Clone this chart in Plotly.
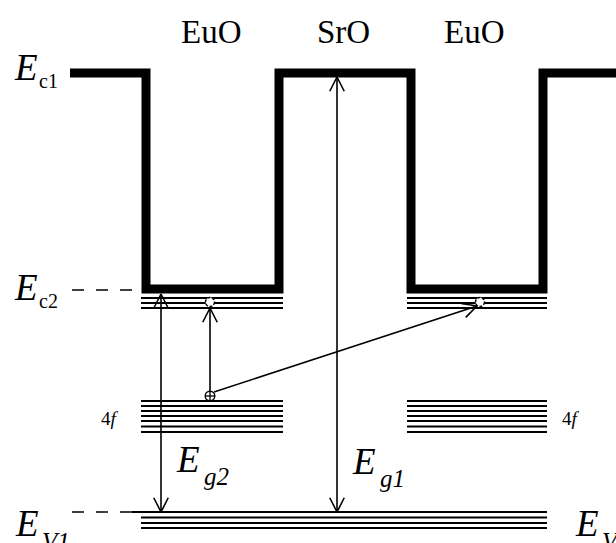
import math
import plotly.graph_objects as go

W, H = 616, 543

# ---- band-diagram data (screen-scale energy / position units) ----
E_c1 = 73            # SrO conduction-band edge
E_c2 = 289           # EuO conduction-band edge
E_v = 512            # common valence-band edge
layer_edges = [146, 279, 411, 543]
layer_names = ["EuO", "SrO", "EuO"]
layer_label_x = [211, 343, 474]
layer_label_y = 32
ec2_sublevels = [298, 303, 308]
f4_levels = [401, 406, 411, 416, 421, 426.5, 432]
ev_sublevels = [517.5, 523, 528]
well_spans = [(141, 283), (407, 547)]
ev_span = (141, 547)
profile_start, profile_end = 70, 625
dash_start, dash_end = 72, 138

# transitions: (x0, y0, x1, y1)
eg1_arrow = (337, 512, 337, 77)
eg2_arrow = (161, 512, 161, 294)
f_to_c_local = (210, 392, 210, 308)
f_to_c_remote = (214, 392, 477, 306)
electron_pos = [(210, 302), (480, 302)]
hole_pos = (210, 396)

fig = go.Figure()

def seg(xs, ys, width=1.6, dash=None):
    fig.add_trace(go.Scatter(x=xs, y=ys, mode="lines",
                             line=dict(color="black", width=width, dash=dash),
                             hoverinfo="skip", showlegend=False))

def head(x0, y0, x1, y1, L=16, ang=27):
    dx, dy = x0 - x1, y0 - y1
    n = math.hypot(dx, dy)
    ux, uy = dx / n, dy / n
    pts_x, pts_y = [], []
    for s in (1, -1):
        a = math.radians(ang) * s
        rx = ux * math.cos(a) - uy * math.sin(a)
        ry = ux * math.sin(a) + uy * math.cos(a)
        pts_x.append(x1 + L * rx)
        pts_y.append(y1 + L * ry)
    seg([pts_x[0], x1, pts_x[1]], [pts_y[0], y1, pts_y[1]], width=1.6)

# conduction band profile
px = [profile_start]
py = [E_c1]
levels = [E_c1, E_c2]
cur = 0
for e in layer_edges:
    px += [e, e]
    py += [levels[cur], levels[1 - cur]]
    cur = 1 - cur
px.append(profile_end)
py.append(levels[cur])
fig.add_trace(go.Scatter(x=px, y=py, mode="lines",
                         line=dict(color="black", width=9),
                         hoverinfo="skip", showlegend=False))

# dashed reference lines
seg([dash_start, dash_end], [E_c2 + 1, E_c2 + 1], width=1.6, dash="12px,12px")
seg([dash_start, dash_end - 6], [E_v, E_v], width=1.6, dash="12px,12px")

# sub-levels in wells
for (a, b) in well_spans:
    for y in ec2_sublevels:
        seg([a, b], [y, y], width=1.8)
    for y in f4_levels:
        seg([a, b], [y, y], width=1.8)

# valence band
seg([ev_span[0] - 9, ev_span[1]], [E_v, E_v], width=1.8)
for y in ev_sublevels:
    seg([ev_span[0], ev_span[1]], [y, y], width=1.8)

# arrows
for (x0, y0, x1, y1) in [eg1_arrow, eg2_arrow]:
    seg([x0, x1], [y0, y1], width=1.6)
    head(x0, y0, x1, y1)
    head(x1, y1, x0, y0)
for (x0, y0, x1, y1) in [f_to_c_local, f_to_c_remote]:
    seg([x0, x1], [y0, y1], width=1.6)
    head(x0, y0, x1, y1)

# electrons (open circles) and hole
r = 4.5
for (cx, cy) in electron_pos:
    fig.add_shape(type="circle", x0=cx - r, x1=cx + r, y0=cy - r, y1=cy + r,
                  line=dict(color="black", width=1.4, dash="3px,1.5px"),
                  fillcolor="white", layer="above")
hr = 4.8
fig.add_shape(type="circle", x0=hole_pos[0] - hr, x1=hole_pos[0] + hr,
              y0=hole_pos[1] - hr, y1=hole_pos[1] + hr,
              line=dict(color="black", width=1.4), fillcolor="white", layer="above")
fig.add_shape(type="line", x0=hole_pos[0] - hr, x1=hole_pos[0] + hr,
              y0=hole_pos[1], y1=hole_pos[1], line=dict(color="black", width=1.3),
              layer="above")
fig.add_shape(type="line", x0=hole_pos[0], x1=hole_pos[0],
              y0=hole_pos[1] - hr, y1=hole_pos[1] + hr, line=dict(color="black", width=1.3),
              layer="above")

SERIF = "Liberation Serif"

def txt(x, y, s, size, italic=False, anchor="center"):
    fig.add_annotation(x=x, y=y, text=(f"<i>{s}</i>" if italic else s),
                       showarrow=False, xanchor=anchor, yanchor="middle",
                       font=dict(family=SERIF, size=size, color="black"))

for name, lx in zip(layer_names, layer_label_x):
    txt(lx, layer_label_y, name, 33)

# E labels: (x of E, y of E, subscript, sub italic, sub x, sub y)
e_labels = [
    (26, 67, "c1", False, 48, 81),
    (26, 287, "c2", False, 48, 301),
    (27, 523, "V1", True, 56, 541),
    (587, 523, "V2", True, 616, 541),
    (188, 459, "g2", True, 216, 476),
    (364, 461, "g1", True, 392, 478),
]
for (ex, ey, sub, sit, sx, sy) in e_labels:
    txt(ex, ey, "E", 37, italic=True)
    txt(sx, sy, sub, 25 if sit else 20, italic=sit)

# 4f labels
for (x, y) in [(110, 418), (571, 418)]:
    fig.add_annotation(x=x, y=y, text="4<i>f</i>", showarrow=False,
                       xanchor="center", yanchor="middle",
                       font=dict(family=SERIF, size=19, color="black"))

fig.update_layout(
    width=W, height=H,
    margin=dict(l=0, r=0, t=0, b=0),
    paper_bgcolor="white", plot_bgcolor="white",
    xaxis=dict(range=[0, W], visible=False, fixedrange=True),
    yaxis=dict(range=[H, 0], visible=False, fixedrange=True),
)

fig.write_html(
    "out.html",
    config={"displayModeBar": False},
    post_script="document.body.style.margin='0';document.body.style.overflow='hidden';",
)
